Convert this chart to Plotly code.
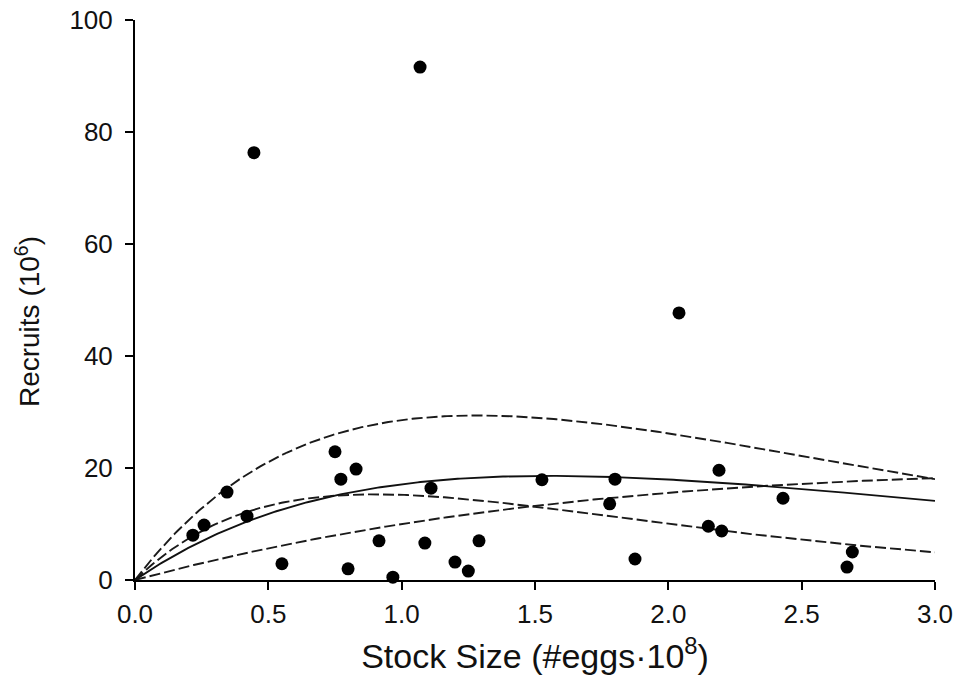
import numpy as np
import plotly.graph_objects as go

# Observed stock-recruit pairs
stock = [0.217, 0.259, 0.345, 0.42, 0.446, 0.551, 0.75, 0.772, 0.829, 0.799,
         0.915, 0.967, 1.069, 1.087, 1.11, 1.20, 1.25, 1.29, 1.526, 1.78,
         1.80, 1.875, 2.04, 2.15, 2.19, 2.20, 2.43, 2.67, 2.69]
recruits = [8.0, 9.8, 15.7, 11.4, 76.3, 2.9, 22.9, 18.0, 19.8, 2.0,
            7.0, 0.5, 91.6, 6.6, 16.4, 3.2, 1.6, 7.0, 17.9, 13.6,
            18.0, 3.75, 47.7, 9.6, 19.6, 8.75, 14.6, 2.3, 5.0]

# Ricker fits R = a * S * exp(-b * S): best fit and alternative fits
fit_best = (32.6, 0.645)
fit_alt = [(62.3, 0.78), (46.2, 1.111), (12.84, 0.25)]

x_ticks = [0.0, 0.5, 1.0, 1.5, 2.0, 2.5, 3.0]
y_ticks = [0, 20, 40, 60, 80, 100]

s_grid = np.linspace(0, 3.0, 301)


def ricker(a, b):
    return a * s_grid * np.exp(-b * s_grid)


fig = go.Figure()

for a, b in fit_alt:
    fig.add_trace(go.Scatter(
        x=s_grid, y=ricker(a, b), mode="lines",
        line=dict(color="#1a1a1a", width=1.9, dash="11px,4px"),
        showlegend=False, hoverinfo="skip"))

fig.add_trace(go.Scatter(
    x=s_grid, y=ricker(*fit_best), mode="lines",
    line=dict(color="#111111", width=1.9),
    showlegend=False, hoverinfo="skip"))

fig.add_trace(go.Scatter(
    x=stock, y=recruits, mode="markers",
    marker=dict(color="black", size=13),
    cliponaxis=False, showlegend=False))

family = "Liberation Sans, Arial, sans-serif"
tick_font = dict(family=family, size=26, color="#111111")

fig.update_xaxes(
    range=[0, 3.0], tickvals=x_ticks, ticktext=[f"{v:.1f}" for v in x_ticks],
    showline=True, linecolor="black", linewidth=2, automargin=False,
    ticks="outside", ticklen=8, tickwidth=1.5, tickcolor="black",
    showgrid=False, zeroline=False, tickfont=tick_font, ticklabelstandoff=2,
    title=dict(text="Stock Size (#eggs·10<sup>8</sup>)",
               font=dict(family=family, size=34, color="#111111"), standoff=16))

fig.update_yaxes(
    range=[0, 100], tickvals=y_ticks,
    showline=True, linecolor="black", linewidth=2, automargin=False,
    ticks="outside", ticklen=8, tickwidth=1.5, tickcolor="black",
    showgrid=False, zeroline=False, tickfont=tick_font, ticklabelstandoff=7)

# Vertical axis title, set slightly below the middle of the plotting area
fig.add_annotation(
    text="Recruits (10<sup>6</sup>)", textangle=-90,
    xref="paper", yref="paper", x=-0.134, y=0.462,
    xanchor="center", yanchor="middle", showarrow=False,
    font=dict(family=family, size=28, color="#111111"))

fig.update_layout(
    width=957, height=694,
    margin=dict(l=135, r=22, t=20, b=114),
    paper_bgcolor="white", plot_bgcolor="white",
    showlegend=False)

fig.write_html("out.html")
